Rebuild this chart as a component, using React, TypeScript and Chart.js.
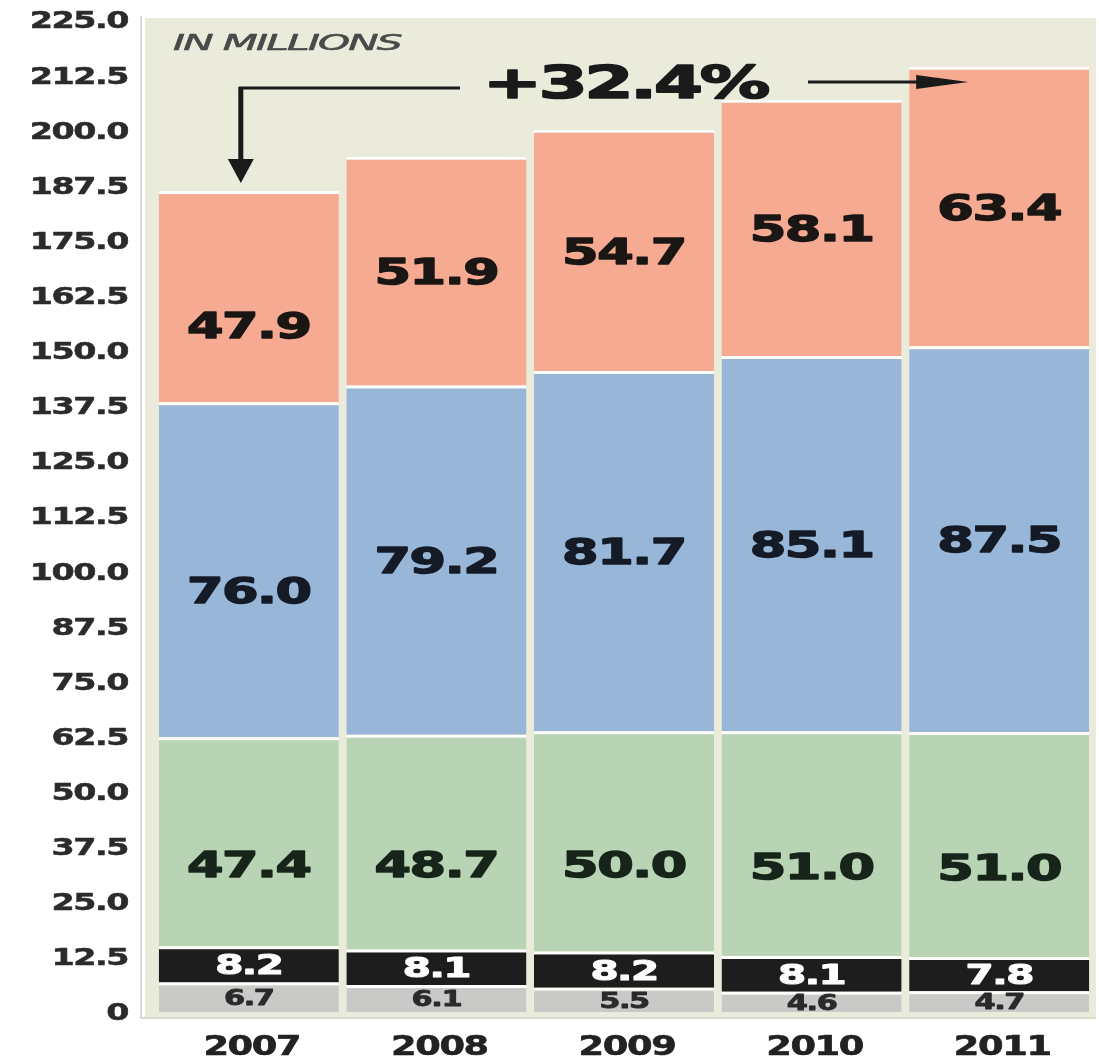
import React, { useEffect, useRef } from "react";
import { Chart, registerables } from "chart.js";

Chart.register(...registerables);

const YEARS = ["2007", "2008", "2009", "2010", "2011"];
const GRAY_VALUES = [6.7, 6.1, 5.5, 4.6, 4.7];
const BLACK_VALUES = [8.2, 8.1, 8.2, 8.1, 7.8];
const GREEN_VALUES = [47.4, 48.7, 50.0, 51.0, 51.0];
const BLUE_VALUES = [76.0, 79.2, 81.7, 85.1, 87.5];
const SALMON_VALUES = [47.9, 51.9, 54.7, 58.1, 63.4];
const Y_TICKS = [0, 12.5, 25, 37.5, 50, 62.5, 75, 87.5, 100, 112.5, 125, 137.5, 150, 162.5, 175, 187.5, 200, 212.5, 225];
const UNIT_NOTE = "IN MILLIONS";
const GROWTH_NOTE = "+32.4%";

const W = 1099;
const H = 1061;

function stretchText(
  ctx: CanvasRenderingContext2D,
  text: string,
  x: number,
  y: number,
  size: number,
  weight: string,
  color: string,
  sx: number,
  align: CanvasTextAlign,
  opts: { style?: string; spacing?: number; stroke?: number } = {}
) {
  ctx.save();
  ctx.font = `${opts.style || "normal"} ${weight} ${size}px "DejaVu Sans"`;
  (ctx as any).letterSpacing = `${opts.spacing ?? 0}px`;
  ctx.fillStyle = color;
  ctx.strokeStyle = color;
  ctx.lineJoin = "round";
  ctx.textBaseline = "alphabetic";
  ctx.textAlign = align;
  ctx.translate(x, y + size * 0.365);
  ctx.scale(sx, 1);
  ctx.fillText(text, 0, 0);
  if (opts.stroke) {
    ctx.lineWidth = opts.stroke;
    ctx.strokeText(text, 0, 0);
  }
  ctx.restore();
}

const labelStyles = [
  { size: 21, color: "#2a2a2a", sx: 1.45, dy: 0, stroke: 0.8 },
  { size: 27, color: "#ffffff", sx: 1.5, dy: 0, stroke: 1 },
  { size: 36, color: "#17241a", sx: 1.46, dy: 22, stroke: 1.4 },
  { size: 36, color: "#141a26", sx: 1.46, dy: 0, stroke: 1.4 },
  { size: 36, color: "#1a1614", sx: 1.46, dy: 0, stroke: 1.4 },
];
// nudges of the first bar's labels (visual placement only)
const FIRST_BAR_DY = [0, 0, 0, 20, 28];

const drawPlugin = {
  id: "custom-draw",
  beforeDraw(chart: any) {
    const { ctx } = chart;
    ctx.save();
    ctx.fillStyle = "#ffffff";
    ctx.fillRect(0, 0, W, H);
    ctx.fillStyle = "#eaebdb";
    ctx.fillRect(145, 18, 951, 999);
    ctx.strokeStyle = "#d8dacd";
    ctx.lineWidth = 2;
    ctx.beginPath();
    ctx.moveTo(141, 16);
    ctx.lineTo(141, 1018);
    ctx.lineTo(1096, 1018);
    ctx.stroke();
    ctx.restore();
  },
  afterDatasetsDraw(chart: any) {
    const { ctx } = chart;
    chart.data.datasets.forEach((ds: any, di: number) => {
      const meta = chart.getDatasetMeta(di);
      const st = labelStyles[di];
      meta.data.forEach((el: any, i: number) => {
        const cy = (el.y + el.base) / 2 + st.dy + (i === 0 ? FIRST_BAR_DY[di] : 0);
        stretchText(ctx, ds.data[i].toFixed(1), el.x, cy, st.size, "bold", st.color, st.sx, "center", {
          spacing: -1,
          stroke: st.stroke,
        });
      });
    });
  },
  afterDraw(chart: any) {
    const { ctx } = chart;
    const ys = chart.scales.y;
    const xs = chart.scales.x;
    Y_TICKS.forEach((v) => {
      const py = ys.getPixelForValue(v);
      const txt = v === 0 ? "0" : v.toFixed(1);
      stretchText(ctx, txt, 128, py, 23, "bold", "#2b2b2b", 1.45, "right", { spacing: -1, stroke: 0.5 });
    });
    YEARS.forEach((y, i) => {
      const px = xs.getPixelForValue(i);
      stretchText(ctx, y, px + 3, 1045, 27, "bold", "#222222", 1.36, "center", { spacing: -1, stroke: 0.6 });
    });
    stretchText(ctx, UNIT_NOTE, 173, 42, 22, "normal", "#4a4a4a", 1.85, "left", { style: "italic", spacing: -1, stroke: 0.6 });
    stretchText(ctx, GROWTH_NOTE, 625, 82, 44, "bold", "#1a1a1a", 1.6, "center", { spacing: -2, stroke: 1.6 });

    const x0 = xs.getPixelForValue(0) - 8;
    const topFirst = chart.getDatasetMeta(4).data[0].y;
    ctx.save();
    ctx.strokeStyle = "#1a1a1a";
    ctx.fillStyle = "#1a1a1a";
    ctx.lineWidth = 3;
    ctx.beginPath();
    ctx.moveTo(x0 - 2, 88);
    ctx.lineTo(460, 88);
    ctx.stroke();
    ctx.lineWidth = 5;
    ctx.beginPath();
    ctx.moveTo(x0, 87);
    ctx.lineTo(x0, topFirst - 30);
    ctx.stroke();
    ctx.beginPath();
    ctx.moveTo(x0 - 13, topFirst - 32);
    ctx.lineTo(x0 + 13, topFirst - 32);
    ctx.lineTo(x0, topFirst - 8);
    ctx.closePath();
    ctx.fill();
    const xTip = xs.getPixelForValue(4) - 31;
    ctx.lineWidth = 3;
    ctx.beginPath();
    ctx.moveTo(808, 82);
    ctx.lineTo(xTip - 40, 82);
    ctx.stroke();
    ctx.beginPath();
    ctx.moveTo(xTip - 52, 75);
    ctx.lineTo(xTip, 82);
    ctx.lineTo(xTip - 52, 89);
    ctx.closePath();
    ctx.fill();
    ctx.restore();
  },
};

export default function App() {
  const ref = useRef<HTMLCanvasElement | null>(null);
  useEffect(() => {
    document.body.style.margin = "0";
    if (!ref.current) return;
    const common = {
      borderColor: "rgba(255,255,255,0.95)",
      borderWidth: { top: 3, bottom: 0, left: 0, right: 0 },
      borderSkipped: false,
      barPercentage: 1,
      categoryPercentage: 0.96,
    };
    const chart = new Chart(ref.current, {
      type: "bar",
      data: {
        labels: YEARS,
        datasets: [
          { label: "Gray", data: GRAY_VALUES, backgroundColor: "#c9c9c7", ...common },
          { label: "Black", data: BLACK_VALUES, backgroundColor: "#1d1d1d", ...common },
          { label: "Green", data: GREEN_VALUES, backgroundColor: "#b8d4b4", ...common },
          { label: "Blue", data: BLUE_VALUES, backgroundColor: "#98b6d8", ...common },
          { label: "Salmon", data: SALMON_VALUES, backgroundColor: "#f5aa91", ...common },
        ] as any,
      },
      options: {
        animation: false,
        responsive: false,
        maintainAspectRatio: false,
        layout: { padding: { left: 155, right: 6, top: 20, bottom: 49 } },
        plugins: { legend: { display: false }, tooltip: { enabled: false } },
        scales: {
          x: {
            stacked: true,
            grid: { display: false, drawTicks: false },
            border: { display: false },
            ticks: { display: false },
          },
          y: {
            stacked: true,
            min: 0,
            max: 225,
            grid: { display: false, drawTicks: false },
            border: { display: false },
            ticks: { display: false, stepSize: 12.5 },
          },
        },
      },
      plugins: [drawPlugin],
    });
    return () => chart.destroy();
  }, []);
  return <canvas ref={ref} width={W} height={H} style={{ display: "block", width: W, height: H }} />;
}
